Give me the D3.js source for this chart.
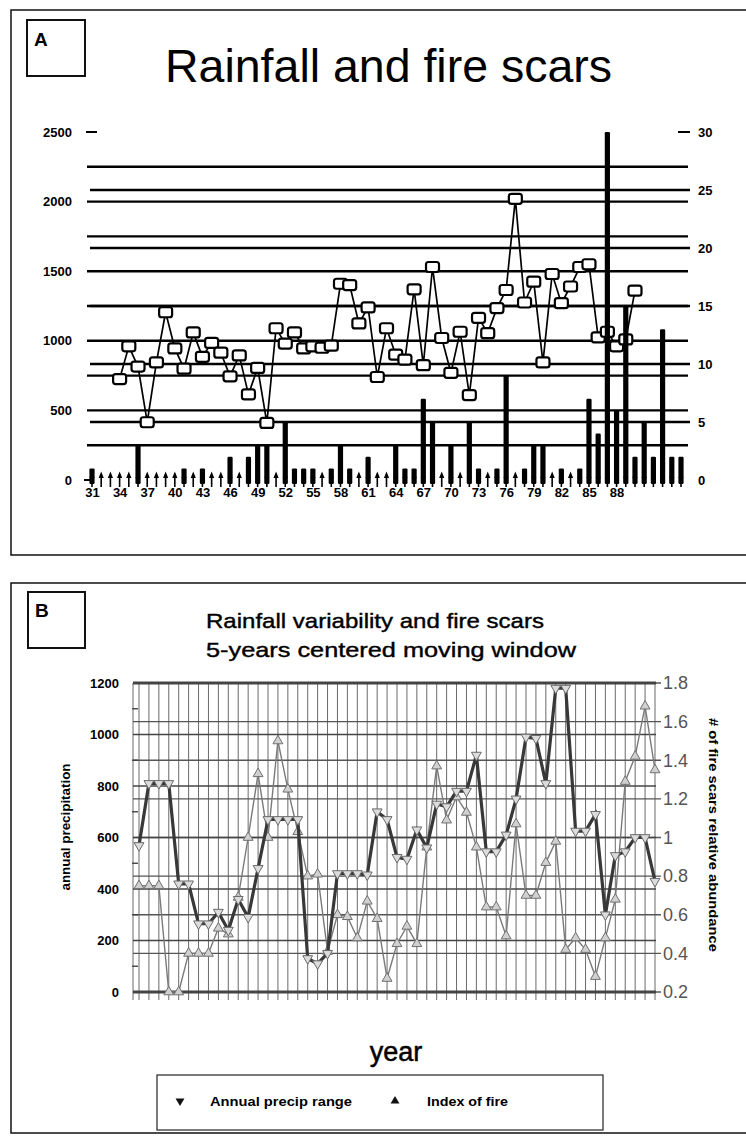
<!DOCTYPE html>
<html>
<head>
<meta charset="utf-8">
<script src="https://cdn.jsdelivr.net/npm/d3@7"></script>
<style>
  body { margin: 0; background: #fff; }
  svg { display: block; font-family: "Liberation Sans", Arial, sans-serif; }
</style>
</head>
<body>
<svg id="chart" width="746" height="1138"></svg>
<script>
// ---- panel A data ----
const fireYears = d3.range(31, 96);
const fireScars = [
  1, 0, 0, 0, 0, 3, 0, 0, 0, 0,
  1, 0, 1, 0, 0, 2, 0, 2, 3, 3,
  0, 5, 1, 1, 1, 0, 1, 3, 1, 0,
  2, 0, 0, 3, 1, 1, 7, 5, 0, 3,
  0, 5, 1, 0, 1, 9, 0, 1, 3, 3,
  0, 1, 0, 1, 7, 4, 30, 6, 15, 2,
  5, 2, 13, 2, 2
];
const rainYears = d3.range(34, 91);
const rainfall = [
  725, 960, 815, 415, 845, 1205, 945, 800, 1060, 885,
  985, 915, 745, 895, 615, 805, 410, 1090, 980, 1060,
  945, 960, 950, 965, 1410, 1400, 1125, 1240, 740, 1090,
  900, 865, 1370, 825, 1530, 1020, 770, 1065, 610, 1165,
  1055, 1235, 1365, 2020, 1275, 1425, 845, 1480, 1270, 1390,
  1530, 1550, 1025, 1065, 960, 1010, 1360
];
const yearLabels = d3.range(31, 89, 3);
const rainTicks = [0, 500, 1000, 1500, 2000, 2500];
const scarTicks = [0, 5, 10, 15, 20, 25, 30];
const rainGrid = d3.range(250, 2500, 250);
const scarGrid = [5, 10, 15, 20, 25];

// ---- panel B data ----
const windowYears = d3.range(36, 89);
const precipRange = [
  569, 810, 810, 810, 420, 420, 265, 265, 310, 240,
  360, 290, 480, 670, 670, 670, 670, 130, 110, 150,
  460, 460, 460, 455, 700, 670, 523, 516, 630, 560,
  730, 720, 780, 780, 920, 545, 545, 610, 750, 990,
  985, 810, 1180, 1180, 625, 625, 690, 300, 530, 545,
  600, 600, 430
];
const fireIndex = [
  0.75, 0.75, 0.75, 0.2, 0.2, 0.4, 0.4, 0.4, 0.53, 0.5,
  0.69, 1.0, 1.33, 1.0, 1.5, 1.25, 1.03, 0.8, 0.81, 0.41,
  0.6, 0.59, 0.48, 0.67, 0.58, 0.27, 0.45, 0.54, 0.45, 0.95,
  1.37, 1.09, 1.21, 1.13, 0.95, 0.64, 0.64, 0.49, 1.07, 0.7,
  0.7, 0.87, 0.98, 0.42, 0.48, 0.42, 0.28, 0.48, 0.68, 1.29,
  1.42, 1.68, 1.35
];
const precipTicks = [0, 200, 400, 600, 800, 1000, 1200];
const precipMinor = d3.range(100, 1200, 200);
const indexTicks = [0.2, 0.4, 0.6, 0.8, 1, 1.2, 1.4, 1.6, 1.8];

const svg = d3.select('#chart');

// ================= PANEL A =================
const gA = svg.append('g');
gA.append('rect').attr('x', 11).attr('y', 10).attr('width', 760).attr('height', 545)
  .attr('fill', 'none').attr('stroke', '#111').attr('stroke-width', 1.5);
gA.append('rect').attr('x', 27).attr('y', 20).attr('width', 58).attr('height', 56)
  .attr('fill', 'none').attr('stroke', '#111').attr('stroke-width', 2);
gA.append('text').attr('x', 34).attr('y', 46).attr('font-size', 19).attr('font-weight', 'bold').text('A');
gA.append('text').attr('x', 165).attr('y', 82).attr('font-size', 46)
  .attr('textLength', 447).attr('lengthAdjust', 'spacingAndGlyphs').text('Rainfall and fire scars');

const xA = d3.scaleLinear().domain([31, 95]).range([92, 681]);
const yRain = d3.scaleLinear().domain([0, 2500]).range([480, 132]);
const yScar = d3.scaleLinear().domain([0, 30]).range([480, 132]);

gA.append('g').selectAll('line').data(rainGrid).join('line')
  .attr('x1', 87).attr('x2', 688)
  .attr('y1', (d) => yRain(d)).attr('y2', (d) => yRain(d))
  .attr('stroke', '#000').attr('stroke-width', 2.4);
gA.append('g').selectAll('line').data(scarGrid).join('line')
  .attr('x1', 90).attr('x2', 690)
  .attr('y1', (d) => yScar(d)).attr('y2', (d) => yScar(d))
  .attr('stroke', '#000').attr('stroke-width', 2.4);

// end dashes
gA.append('line').attr('x1', 86).attr('x2', 97).attr('y1', yRain(2500)).attr('y2', yRain(2500))
  .attr('stroke', '#000').attr('stroke-width', 2);
gA.append('line').attr('x1', 84).attr('x2', 92).attr('y1', yRain(0)).attr('y2', yRain(0))
  .attr('stroke', '#000').attr('stroke-width', 2);
gA.append('line').attr('x1', 678).attr('x2', 690).attr('y1', yScar(30)).attr('y2', yScar(30))
  .attr('stroke', '#000').attr('stroke-width', 2);

const styleAxis = (g) => {
  g.select('.domain').remove();
  g.selectAll('text').attr('font-family', '"Liberation Sans", Arial, sans-serif')
    .attr('font-weight', 'bold').attr('fill', '#000');
};
const plain = d3.format('d');

gA.append('g').attr('transform', 'translate(72,0)')
  .call(d3.axisLeft(yRain).tickValues(rainTicks).tickFormat(plain).tickSize(0).tickPadding(0))
  .call(styleAxis).selectAll('text').attr('font-size', 13);
gA.append('g').attr('transform', 'translate(698,0)')
  .call(d3.axisRight(yScar).tickValues(scarTicks).tickFormat(plain).tickSize(0).tickPadding(0))
  .call(styleAxis).selectAll('text').attr('font-size', 13);
gA.append('g').attr('transform', 'translate(0,486)')
  .call(d3.axisBottom(xA).tickValues(yearLabels).tickFormat(plain).tickSize(0).tickPadding(2))
  .call(styleAxis).selectAll('text').attr('font-size', 13);

// small stems at every year
gA.append('g').selectAll('path').data(fireYears).join('path')
  .attr('d', (d) => {
    const x = xA(d);
    return `M${x - 2.6},478L${x},471.5L${x + 2.6},478Z M${x - 0.8},476h1.6V487h-1.6Z`;
  })
  .attr('fill', '#000');

// rainfall line + markers
const rainPts = rainYears.map((y, i) => [y, rainfall[i]]);
gA.append('path').datum(rainPts)
  .attr('d', d3.line().x((d) => xA(d[0])).y((d) => yRain(d[1])))
  .attr('fill', 'none').attr('stroke', '#000').attr('stroke-width', 1.7);
gA.append('g').selectAll('rect').data(rainPts).join('rect')
  .attr('x', (d) => xA(d[0]) - 6.5).attr('y', (d) => yRain(d[1]) - 5)
  .attr('width', 13).attr('height', 10).attr('rx', 2.5)
  .attr('fill', '#fff').attr('stroke', '#000').attr('stroke-width', 2.2);

// fire scar bars (drawn over the line)
gA.append('g').selectAll('rect').data(fireYears.map((y, i) => [y, fireScars[i]]).filter((d) => d[1] > 0))
  .join('rect')
  .attr('x', (d) => xA(d[0]) - 2.6).attr('width', 5.2)
  .attr('y', (d) => yScar(d[1])).attr('height', (d) => yScar(0) - yScar(d[1]) + 4)
  .attr('rx', 1.2)
  .attr('fill', '#000');

// ================= PANEL B =================
const gB = svg.append('g');
gB.append('rect').attr('x', 11).attr('y', 583).attr('width', 760).attr('height', 550)
  .attr('fill', 'none').attr('stroke', '#111').attr('stroke-width', 1.5);
gB.append('rect').attr('x', 28).attr('y', 592).attr('width', 57).attr('height', 56)
  .attr('fill', 'none').attr('stroke', '#111').attr('stroke-width', 2);
gB.append('text').attr('x', 35).attr('y', 617).attr('font-size', 19).attr('font-weight', 'bold').text('B');
gB.append('text').attr('x', 206).attr('y', 628).attr('font-size', 21)
  .attr('stroke', '#000').attr('stroke-width', 0.4)
  .attr('textLength', 338).attr('lengthAdjust', 'spacingAndGlyphs').text('Rainfall variability and fire scars');
gB.append('text').attr('x', 206).attr('y', 657).attr('font-size', 21)
  .attr('stroke', '#000').attr('stroke-width', 0.4)
  .attr('textLength', 370).attr('lengthAdjust', 'spacingAndGlyphs').text('5-years centered moving window');

const left = 133;
const right = 656;
const xB = d3.scalePoint().domain(windowYears).range([139, 655]);
const yP = d3.scaleLinear().domain([0, 1200]).range([992, 683]);
const yI = d3.scaleLinear().domain([0.2, 1.8]).range([992, 683]);

// vertical grid
gB.append('g').selectAll('line').data(windowYears).join('line')
  .attr('x1', (d) => xB(d)).attr('x2', (d) => xB(d))
  .attr('y1', 683).attr('y2', 1000)
  .attr('stroke', '#6a6a6a').attr('stroke-width', 1);
gB.append('line').attr('x1', left).attr('x2', left).attr('y1', 683).attr('y2', 1000)
  .attr('stroke', '#6a6a6a').attr('stroke-width', 1);

// horizontal grid
gB.append('g').selectAll('line').data(indexTicks).join('line')
  .attr('x1', left).attr('x2', right + 5)
  .attr('y1', (d) => yI(d)).attr('y2', (d) => yI(d))
  .attr('stroke', '#555').attr('stroke-width', 1.4);
gB.append('g').selectAll('line').data(precipTicks).join('line')
  .attr('x1', left).attr('x2', right)
  .attr('y1', (d) => yP(d)).attr('y2', (d) => yP(d))
  .attr('stroke', '#444').attr('stroke-width', (d) => (d === 0 || d === 1200 ? 3.2 : 1.6));
gB.append('g').selectAll('line').data(precipMinor).join('line')
  .attr('x1', left - 1).attr('x2', left + 5)
  .attr('y1', (d) => yP(d)).attr('y2', (d) => yP(d))
  .attr('stroke', '#444').attr('stroke-width', 1.4);

gB.append('g').attr('transform', `translate(${left - 14},0)`)
  .call(d3.axisLeft(yP).tickValues(precipTicks).tickFormat(plain).tickSize(0).tickPadding(0))
  .call(styleAxis).selectAll('text').attr('font-size', 13);
gB.append('g').attr('transform', `translate(${right + 7},0)`)
  .call(d3.axisRight(yI).tickValues(indexTicks).tickSize(0).tickPadding(0).tickFormat((d) => d))
  .call((g) => g.select('.domain').remove())
  .selectAll('text').attr('font-family', '"Liberation Sans", Arial, sans-serif')
  .attr('font-size', 18).attr('fill', '#555');

gB.append('text').attr('transform', 'translate(70,827) rotate(-90)').attr('text-anchor', 'middle')
  .attr('font-size', 12).attr('font-weight', 'bold')
  .attr('textLength', 127).attr('lengthAdjust', 'spacingAndGlyphs').text('annual precipitation');
gB.append('text').attr('transform', 'translate(709,835) rotate(90)').attr('text-anchor', 'middle')
  .attr('font-size', 12).attr('font-weight', 'bold')
  .attr('textLength', 234).attr('lengthAdjust', 'spacingAndGlyphs').text('# of fire scars relative abundance');

// index of fire (thin, right axis)
const firePts = windowYears.map((y, i) => [y, fireIndex[i]]);
gB.append('path').datum(firePts)
  .attr('d', d3.line().x((d) => xB(d[0])).y((d) => yI(d[1])))
  .attr('fill', 'none').attr('stroke', '#7a7a7a').attr('stroke-width', 1.4);
const upTri = d3.symbol(d3.symbolTriangle, 42);
gB.append('g').selectAll('path').data(firePts).join('path')
  .attr('d', upTri)
  .attr('transform', (d) => `translate(${xB(d[0])},${yI(d[1])})`)
  .attr('fill', '#d0d0d0').attr('stroke', '#707070').attr('stroke-width', 1);

// annual precip range (thick, left axis)
const precipPts = windowYears.map((y, i) => [y, precipRange[i]]);
gB.append('path').datum(precipPts)
  .attr('d', d3.line().x((d) => xB(d[0])).y((d) => yP(d[1])))
  .attr('fill', 'none').attr('stroke', '#383838').attr('stroke-width', 3.2);
gB.append('g').selectAll('path').data(precipPts).join('path')
  .attr('d', upTri)
  .attr('transform', (d) => `translate(${xB(d[0])},${yP(d[1])}) rotate(180)`)
  .attr('fill', '#dcdcdc').attr('stroke', '#6a6a6a').attr('stroke-width', 1);

gB.append('text').attr('x', 396).attr('y', 1061).attr('text-anchor', 'middle')
  .attr('font-size', 27).attr('stroke', '#000').attr('stroke-width', 0.5).text('year');

// legend
gB.append('rect').attr('x', 157).attr('y', 1075).attr('width', 446).attr('height', 55)
  .attr('fill', 'none').attr('stroke', '#222').attr('stroke-width', 1.2);
gB.append('path').attr('d', d3.symbol(d3.symbolTriangle, 34))
  .attr('transform', 'translate(180,1101) rotate(180)').attr('fill', '#111');
gB.append('text').attr('x', 210).attr('y', 1106).attr('font-size', 12.5).attr('font-weight', 'bold')
  .attr('textLength', 142).attr('lengthAdjust', 'spacingAndGlyphs').text('Annual precip range');
gB.append('path').attr('d', d3.symbol(d3.symbolTriangle, 34))
  .attr('transform', 'translate(395,1101)').attr('fill', '#111');
gB.append('text').attr('x', 427).attr('y', 1106).attr('font-size', 12.5).attr('font-weight', 'bold')
  .attr('textLength', 81).attr('lengthAdjust', 'spacingAndGlyphs').text('Index of fire');
</script>
</body>
</html>
